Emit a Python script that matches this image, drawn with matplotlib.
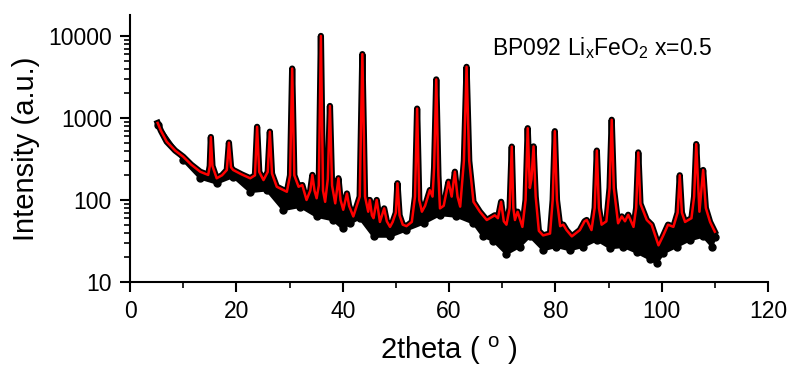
import matplotlib
matplotlib.use("Agg")
import matplotlib.pyplot as plt
from matplotlib.ticker import FixedLocator, LogLocator, NullFormatter, FuncFormatter

plt.rcParams['font.family'] = ['Liberation Sans', 'DejaVu Sans']
plt.rcParams['mathtext.default'] = 'regular'

# fitted curve (2theta, intensity)
fit_x = [5.2, 5.8, 6.9, 8.5, 10.0, 11.5, 13.2, 14.7, 15.0, 15.2, 15.5, 16.3, 17.3, 18.2, 18.6, 19.0,
         19.4, 21.0, 22.6, 23.5, 23.9, 24.3, 25.1, 25.9, 26.3, 26.7, 27.6, 29.5, 30.1, 30.5, 30.9,
         31.7, 32.4, 33.2, 33.9, 34.3, 34.7, 35.1, 35.5, 35.9, 36.3, 36.7, 37.2, 37.6, 38.0, 38.6,
         39.2, 39.6, 40.1, 40.8, 41.2, 42.0, 43.2, 43.7, 44.2, 44.8, 45.1, 45.5, 45.8, 46.4, 47.0,
         47.8, 48.3, 48.9, 49.4, 50.0, 50.3, 50.7, 51.3, 52.0, 53.0, 53.6, 54.0, 54.4, 54.9, 55.5,
         56.4, 56.9, 57.2, 57.6, 58.0, 58.3, 59.0, 59.9, 60.5, 61.1, 61.6, 62.1, 62.8, 63.3, 63.8,
         64.6, 65.8, 67.1, 68.6, 69.2, 69.8, 70.3, 70.8, 71.4, 71.8, 72.1, 72.4, 72.9, 73.8, 74.4,
         74.8, 75.2, 75.5, 75.9, 76.3, 76.9, 77.7, 79.0, 79.5, 79.9, 80.3, 80.9, 81.5, 82.1, 83.1,
         84.6, 85.5, 85.9, 86.8, 87.4, 87.8, 88.2, 88.7, 89.6, 90.2, 90.6, 91.0, 91.8, 92.5, 93.1,
         93.7, 94.7, 95.2, 95.6, 96.0, 97.2, 98.1, 99.4, 100.3, 101.2, 102.2, 103.0, 103.4, 103.8,
         104.4, 105.6, 106.1, 106.5, 107.1, 107.8, 108.3, 109.1, 110.0]
fit_y = [870, 700, 514, 400, 337, 270, 221, 202, 260, 585, 260, 184, 200, 232, 500, 250,
         232, 205, 184, 200, 780, 220, 175, 220, 680, 210, 145, 126, 200, 4000, 200,
         145, 152, 100, 130, 202, 130, 105, 150, 10000, 130, 95, 180, 1400, 150, 91,
         184, 100, 76, 120, 85, 63, 110, 6000, 110, 72, 100, 65, 60, 100, 54,
         79, 55, 47, 54, 70, 160, 65, 50, 48, 54, 110, 1300, 100, 72, 85,
         132, 110, 250, 2950, 200, 79, 85, 167, 110, 221, 110, 83, 300, 4200, 300,
         95, 72, 57, 65, 60, 95, 55, 50, 80, 447, 80, 57, 72, 47, 100,
         750, 140, 180, 450, 110, 42, 37, 39, 100, 690, 100, 48, 50, 43, 36,
         43, 55, 57, 43, 80, 400, 80, 50, 55, 140, 950, 140, 52, 63, 55,
         66, 47, 80, 380, 90, 57, 50, 28, 37, 50, 47, 70, 200, 70,
         54, 60, 110, 480, 72, 232, 80, 54, 41]

# lower edge of the scattered measured points
low_x = [5.3, 10.0, 13.2, 16.3, 19.4, 22.6, 25.7, 28.8, 32.0, 35.1, 38.2, 40.0, 41.4, 43.2, 45.8,
         48.9, 52.0, 55.2, 58.3, 61.4, 64.6, 66.4, 68.3, 70.8, 73.3, 75.2, 77.7, 80.2, 82.7, 85.2,
         87.8, 90.3, 92.8, 95.3, 97.8, 99.1, 100.3, 102.8, 105.3, 107.8, 109.5, 110.0]
low_y = [820, 304, 184, 160, 192, 126, 132, 76, 83, 63, 57, 45, 52, 60, 36,
         36, 43, 52, 66, 63, 52, 36, 32, 22, 27, 36, 24.6, 27, 24.6, 27,
         32.5, 26, 27, 23, 19, 17, 22.5, 27, 32.5, 36, 27, 35]

fig = plt.figure(figsize=(7.89, 3.79), dpi=100)
ax = fig.add_axes([0.1648, 0.2559, 0.8086, 0.7045])

ax.fill(fit_x + low_x[::-1], fit_y + low_y[::-1], color='black', lw=0, zorder=1)
ax.plot(low_x, low_y, color='black', lw=2, marker='o', ms=5, zorder=1)
ax.plot(fit_x, fit_y, color='black', lw=4.5, solid_joinstyle='round', zorder=2)
ax.plot(fit_x, fit_y, color='red', lw=1.8, zorder=3)

ax.set_yscale('log')
ax.set_xlim(0, 120)
ax.set_ylim(10, 18000)
ax.xaxis.set_major_locator(FixedLocator([0, 20, 40, 60, 80, 100, 120]))
ax.xaxis.set_minor_locator(FixedLocator([10, 30, 50, 70, 90, 110]))
ax.yaxis.set_major_locator(FixedLocator([10, 100, 1000, 10000]))
ax.yaxis.set_minor_locator(LogLocator(base=10, subs=range(2, 10)))
ax.yaxis.set_major_formatter(FuncFormatter(lambda v, p: f'{v:g}'))
ax.yaxis.set_minor_formatter(NullFormatter())

for s in ['top', 'right']:
    ax.spines[s].set_visible(False)
for s in ['left', 'bottom']:
    ax.spines[s].set_linewidth(1.5)
ax.tick_params(which='major', length=7, width=1.5, labelsize=16.5, direction='out', pad=6)
ax.tick_params(which='minor', length=4, width=1.2, direction='out')

ax.set_xlabel('2theta ( $^{o}$ )', fontsize=21, labelpad=8)
ax.set_ylabel('Intensity (a.u.)', fontsize=21, labelpad=6)

ax.text(68.1, 5860, 'BP092 Li$_{x}$FeO$_{2}$ x=0.5', fontsize=16.5, va='baseline')

fig.savefig('out.png', dpi=100)
